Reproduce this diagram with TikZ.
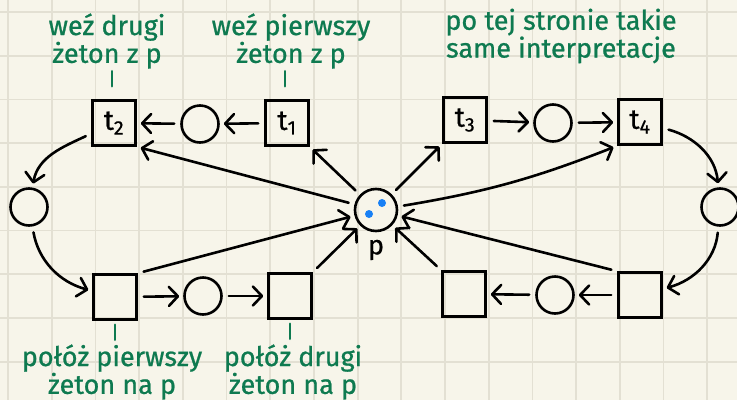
\documentclass[tikz,border=0pt]{standalone}
\usepackage{fontspec}
\setmainfont{Fira Sans}
\usetikzlibrary{arrows.meta, positioning}
\definecolor{notegreen}{RGB}{14,122,80}
\definecolor{paper}{RGB}{247,245,234}
\definecolor{gridgray}{RGB}{227,224,211}
\definecolor{tokenblue}{RGB}{24,128,245}

\begin{document}
\begin{tikzpicture}[x=1pt, y=-1pt,
    transitions/.style={draw, line width=2.6pt, minimum width=43pt, minimum height=45pt, inner sep=0pt, font=\fontsize{28}{28}\selectfont\addfontfeatures{FakeBold=0.6}},
    places/.style={draw, circle, line width=2.6pt, minimum size=37pt, inner sep=0pt},
    tokens/.style={fill=tokenblue, circle, inner sep=0pt, minimum size=8pt},
    notes/.style={text=notegreen, align=center, inner sep=0pt, font=\fontsize{27}{26}\selectfont\addfontfeatures{FakeBold=0.8}},
    arcs/.style={line width=2.6pt, line cap=round, -{Straight Barb[length=9pt, width=19pt, round]}, shorten >=4pt, shorten <=6pt},
    ticks/.style={draw=notegreen, line width=2.8pt, line cap=round}]
        \useasboundingbox (0,0) rectangle (737,400);
        \fill[paper] (0,0) rectangle (737,400);
        \foreach \gx in {0,...,16} \draw[gridgray, line width=1.8pt] ({8+43.7*\gx},0) -- ({8+43.7*\gx},400);
        \foreach \gy in {0,...,8} \draw[gridgray, line width=1.8pt] (0,{12+43.7*\gy}) -- (737,{12+43.7*\gy});
        \node[transitions] (t2) at (114,123) {t\textsubscript{2}};
        \node[places] (q1) at (200,124) {};
        \node[transitions] (t1) at (287,123) {t\textsubscript{1}};
        \node[transitions] (t3) at (465,120) {t\textsubscript{3}};
        \node[places] (q3) at (553,123) {};
        \node[transitions] (t4) at (640,122) {t\textsubscript{4}};
        \node[places] (ql) at (29,207) {};
        \node[places] (qr) at (720,207) {};
        \node[transitions] (b1) at (115,297) {};
        \node[places] (q2) at (203,296) {};
        \node[transitions] (b2) at (290,296) {};
        \node[transitions] (b3) at (464,294) {};
        \node[places] (q4) at (555,295) {};
        \node[transitions] (b4) at (640,295) {};
        \node[places, minimum size=42pt, label={[label distance=4pt, font=\fontsize{27}{27}\selectfont\addfontfeatures{FakeBold=0.6}]below:p}] (p) at (376,210) {};
        \node[tokens] (k1) at (382,203) {};
        \node[tokens] (k2) at (369,214) {};
        \foreach \from/\to in
        {t1/q1,q1/t2,b1/q2,q2/b2,t3/q3,q3/t4,b4/q4,q4/b3} \draw[arcs] (\from)--(\to);
        \foreach \from/\to in
        {b1.north east/p,b2.north east/p,b3.north west/p,b4.north west/p,p/t1.south east,p/t2.south east,p/t3.south west} \draw[arcs] (\from)--(\to);
        \draw[arcs] (p) to[bend right=6] (t4.south west);
        \draw[arcs] (t2) to[out=205, in=80] (ql);
        \draw[arcs] (ql) to[out=-80, in=165] (b1);
        \draw[arcs] (t4) to[out=-15, in=95] (qr);
        \draw[arcs] (qr) to[out=-95, in=15] (b4);
        \node[notes] (n2) at (107,41) {weź drugi\\żeton z p};
        \node[notes] (n1) at (291,41) {weź pierwszy\\żeton z p};
        \node[notes] (n3) at (561,36) {po tej stronie takie\\same interpretacje};
        \node[notes] (n4) at (112,372) {połóż pierwszy\\żeton na p};
        \node[notes] (n5) at (293,372) {połóż drugi\\żeton na p};
        \foreach \tr in {t1,t2} \draw[ticks] (\tr.north) ++(-2,-13) -- ++(0,-15);
        \foreach \tr in {b1,b2} \draw[ticks] (\tr.south) ++(0,4) -- ++(0,15);
\end{tikzpicture}
\end{document}
